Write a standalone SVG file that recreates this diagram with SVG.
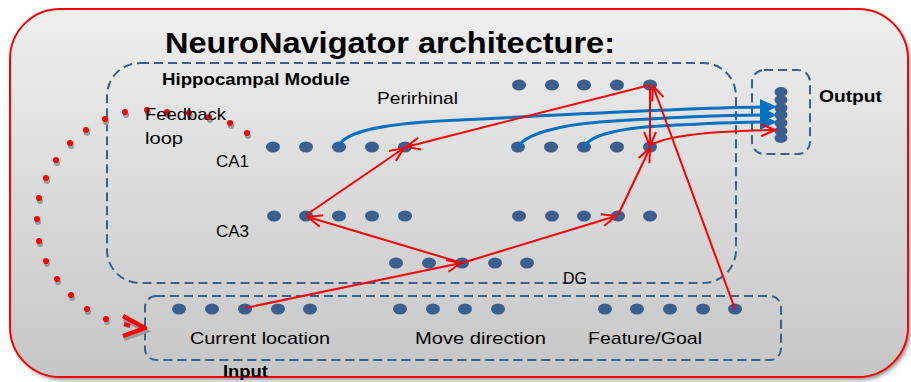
<svg xmlns="http://www.w3.org/2000/svg" width="911" height="382" viewBox="0 0 911 382">
<style>
.t{font-family:"Liberation Sans",Arial,sans-serif;font-size:17px;fill:#000}
.b{font-family:"Liberation Sans",Arial,sans-serif;font-weight:bold;fill:#000}
.dash{fill:none;stroke:#3d5f8d;stroke-width:2;stroke-dasharray:9 5}
.d{fill:#3b5f8f}
.r{fill:none;stroke:#ff0000;stroke-width:2;marker-end:url(#ra)}
.bl{fill:none;stroke:#0070c0;stroke-width:3;marker-end:url(#ba)}
.fb{fill:#ff0000}
.fs{fill:#9a9a9a}
</style>
<defs>
<linearGradient id="bg" x1="0" y1="0" x2="0" y2="1">
<stop offset="0" stop-color="#efefef"/>
<stop offset="1" stop-color="#c6c6c6"/>
</linearGradient>
<filter id="sh" x="-5%" y="-5%" width="110%" height="110%"><feGaussianBlur stdDeviation="2"/></filter>
<marker id="ra" viewBox="0 0 16 14" refX="15" refY="7" markerWidth="16" markerHeight="14" markerUnits="userSpaceOnUse" orient="auto">
<path d="M1,1 L15,7 L1,13" fill="none" stroke="#ff0000" stroke-width="2"/>
</marker>
<marker id="ba" viewBox="0 0 17 16" refX="2" refY="8" markerWidth="17" markerHeight="16" markerUnits="userSpaceOnUse" orient="auto">
<path d="M0,0 L17,8 L0,16 z" fill="#0070c0"/>
</marker>
</defs>

<g id="frame">
<rect x="13" y="12" width="897" height="368" rx="50" fill="#8a8a8a" filter="url(#sh)"/>
<rect x="10" y="9" width="898" height="368" rx="50" fill="url(#bg)" stroke="#ff0000" stroke-width="2"/>
<text class="b" x="165" y="53" font-size="30" textLength="450" lengthAdjust="spacingAndGlyphs">NeuroNavigator architecture:</text>
</g>

<g id="hippocampal-module">
<rect class="dash" x="107" y="63" width="629" height="220" rx="33"/>
<text class="b" x="162" y="85" font-size="16" textLength="188" lengthAdjust="spacingAndGlyphs">Hippocampal Module</text>
</g>

<g id="output">
<rect class="dash" x="752" y="70" width="58" height="84" rx="12"/>
<g class="d">
<ellipse cx="781" cy="92" rx="6.5" ry="5"/>
<ellipse cx="781" cy="100" rx="6.5" ry="5"/>
<ellipse cx="781" cy="108" rx="6.5" ry="5"/>
<ellipse cx="781" cy="115" rx="6.5" ry="5"/>
<ellipse cx="781" cy="123" rx="6.5" ry="5"/>
<ellipse cx="781" cy="131" rx="6.5" ry="5"/>
<ellipse cx="781" cy="138" rx="6.5" ry="5"/>
</g>
<text class="b" x="819" y="102" font-size="16" textLength="63" lengthAdjust="spacingAndGlyphs">Output</text>
</g>

<g id="input">
<rect class="dash" x="145" y="296" width="636" height="64" rx="11"/>
<text class="b" x="223" y="377" font-size="16" textLength="45" lengthAdjust="spacingAndGlyphs">Input</text>
</g>

<g id="perirhinal">
<g class="d">
<ellipse cx="519" cy="85" rx="7" ry="5.5"/><ellipse cx="552" cy="85" rx="7" ry="5.5"/><ellipse cx="584" cy="85" rx="7" ry="5.5"/><ellipse cx="617" cy="85" rx="7" ry="5.5"/><ellipse cx="650" cy="85" rx="7" ry="5.5"/>
</g>
<text class="t" x="377" y="104" textLength="81" lengthAdjust="spacingAndGlyphs">Perirhinal</text>
</g>

<g id="ca1">
<g class="d">
<ellipse cx="273" cy="147" rx="7" ry="5.5"/><ellipse cx="306" cy="147" rx="7" ry="5.5"/><ellipse cx="339" cy="147" rx="7" ry="5.5"/><ellipse cx="372" cy="147" rx="7" ry="5.5"/><ellipse cx="405" cy="147" rx="7" ry="5.5"/>
</g>
<text class="t" x="216" y="167" textLength="33" lengthAdjust="spacingAndGlyphs">CA1</text>
</g>

<g id="ca1-right">
<g class="d">
<ellipse cx="518" cy="147" rx="7" ry="5.5"/><ellipse cx="551" cy="147" rx="7" ry="5.5"/><ellipse cx="584" cy="147" rx="7" ry="5.5"/><ellipse cx="617" cy="147" rx="7" ry="5.5"/><ellipse cx="650" cy="147" rx="7" ry="5.5"/>
</g>
</g>

<g id="ca3">
<g class="d">
<ellipse cx="274" cy="216" rx="7" ry="5.5"/><ellipse cx="306" cy="216" rx="7" ry="5.5"/><ellipse cx="339" cy="216" rx="7" ry="5.5"/><ellipse cx="372" cy="216" rx="7" ry="5.5"/><ellipse cx="405" cy="216" rx="7" ry="5.5"/>
</g>
<text class="t" x="216" y="237" textLength="33" lengthAdjust="spacingAndGlyphs">CA3</text>
</g>

<g id="ca3-right">
<g class="d">
<ellipse cx="519" cy="216" rx="7" ry="5.5"/><ellipse cx="552" cy="216" rx="7" ry="5.5"/><ellipse cx="584" cy="216" rx="7" ry="5.5"/><ellipse cx="618" cy="216" rx="7" ry="5.5"/><ellipse cx="650" cy="216" rx="7" ry="5.5"/>
</g>
</g>

<g id="dg">
<g class="d">
<ellipse cx="396" cy="263" rx="7" ry="5.5"/><ellipse cx="429" cy="263" rx="7" ry="5.5"/><ellipse cx="462" cy="263" rx="7" ry="5.5"/><ellipse cx="495" cy="263" rx="7" ry="5.5"/><ellipse cx="527" cy="263" rx="7" ry="5.5"/>
</g>
<text class="t" x="563" y="284" textLength="24" lengthAdjust="spacingAndGlyphs">DG</text>
</g>

<g id="current-location">
<g class="d">
<ellipse cx="179" cy="309" rx="7" ry="5.5"/><ellipse cx="212" cy="309" rx="7" ry="5.5"/><ellipse cx="245" cy="309" rx="7" ry="5.5"/><ellipse cx="278" cy="309" rx="7" ry="5.5"/><ellipse cx="310" cy="309" rx="7" ry="5.5"/>
</g>
<text class="t" x="190" y="344" textLength="140" lengthAdjust="spacingAndGlyphs">Current location</text>
</g>

<g id="move-direction">
<g class="d">
<ellipse cx="400" cy="309" rx="7" ry="5.5"/><ellipse cx="433" cy="309" rx="7" ry="5.5"/><ellipse cx="465" cy="309" rx="7" ry="5.5"/><ellipse cx="498" cy="309" rx="7" ry="5.5"/>
</g>
<text class="t" x="415" y="344" textLength="131" lengthAdjust="spacingAndGlyphs">Move direction</text>
</g>

<g id="feature-goal">
<g class="d">
<ellipse cx="605" cy="309" rx="7" ry="5.5"/><ellipse cx="637" cy="309" rx="7" ry="5.5"/><ellipse cx="670" cy="309" rx="7" ry="5.5"/><ellipse cx="703" cy="309" rx="7" ry="5.5"/><ellipse cx="735" cy="309" rx="7" ry="5.5"/>
</g>
<text class="t" x="588" y="344" textLength="114" lengthAdjust="spacingAndGlyphs">Feature/Goal</text>
</g>

<g id="feedback-loop">
<g class="fs">
<circle cx="248" cy="136" r="3"/><circle cx="231" cy="126" r="3"/><circle cx="210" cy="120" r="3"/><circle cx="190" cy="116" r="3"/><circle cx="168" cy="115" r="3"/><circle cx="148" cy="113" r="3"/><circle cx="126" cy="115" r="3"/><circle cx="106" cy="122" r="3"/><circle cx="87" cy="133" r="3"/><circle cx="71" cy="146" r="3"/><circle cx="57" cy="163" r="3"/><circle cx="47" cy="181" r="3"/><circle cx="40" cy="201" r="3"/><circle cx="38" cy="222" r="3"/><circle cx="40" cy="244" r="3"/><circle cx="47" cy="264" r="3"/><circle cx="58" cy="282" r="3"/><circle cx="72" cy="298" r="3"/><circle cx="88" cy="312" r="3"/><circle cx="107" cy="322" r="3"/>
<path d="M124,319 L146,331 L124,339" fill="none" stroke="#9a9a9a" stroke-width="4.5"/>
</g>
<g class="fb">
<circle cx="247" cy="133" r="3"/><circle cx="230" cy="123" r="3"/><circle cx="209" cy="117" r="3"/><circle cx="189" cy="113" r="3"/><circle cx="167" cy="112" r="3"/><circle cx="147" cy="110" r="3"/><circle cx="125" cy="112" r="3"/><circle cx="105" cy="119" r="3"/><circle cx="86" cy="130" r="3"/><circle cx="70" cy="143" r="3"/><circle cx="56" cy="160" r="3"/><circle cx="46" cy="178" r="3"/><circle cx="39" cy="198" r="3"/><circle cx="37" cy="219" r="3"/><circle cx="39" cy="241" r="3"/><circle cx="46" cy="261" r="3"/><circle cx="57" cy="279" r="3"/><circle cx="71" cy="295" r="3"/><circle cx="87" cy="309" r="3"/><circle cx="106" cy="319" r="3"/>
</g>
<path d="M123,316 L145,328 L123,336" fill="none" stroke="#ff0000" stroke-width="4.5" stroke-linejoin="round"/>
<path d="M124,324 L130,326" fill="none" stroke="#ff0000" stroke-width="4"/>
<text class="t" x="145" y="120" textLength="81" lengthAdjust="spacingAndGlyphs">Feedback</text>
<text class="t" x="145" y="144" textLength="38" lengthAdjust="spacingAndGlyphs">loop</text>
</g>

<g id="connectors">
<path class="bl" d="M339,146 C345,131 385,123 460,120 C560,115 680,108 762,107"/>
<path class="bl" d="M518,147 C525,134 560,125 600,122 C660,118 720,115 762,115"/>
<path class="bl" d="M584,147 C590,135 620,128 660,126 C700,124 730,122 762,122"/>
<path class="r" d="M245,308 L461,263"/>
<path class="r" d="M462,263 L308,217"/>
<path class="r" d="M462,263 L616,216"/>
<path class="r" d="M306,215 L404,148"/>
<path class="r" d="M650,85 L406,147"/>
<path class="r" d="M618,215 L650,148"/>
<path class="r" d="M650,87 L650,146"/>
<path class="r" d="M735,309 L653,86"/>
<path class="r" d="M651,145 C668,135 710,131 775,130"/>
</g>
</svg>
